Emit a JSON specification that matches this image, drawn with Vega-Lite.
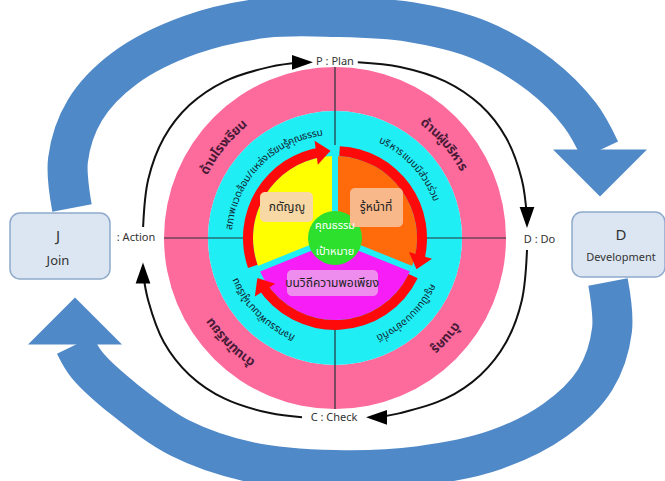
{
 "$schema": "https://vega.github.io/schema/vega-lite/v6.json",
 "width": 660, "height": 476,
 "autosize": {"type": "none"},
 "padding": {"left": 5, "top": 0, "right": 0, "bottom": 5},
 "background": "white",
 "config": {"view": {"stroke": null}},
 "datasets": {
  "blue": [
   {"arrow":"J-D","i":1,"x":-263,"y":30},{"arrow":"J-D","i":2,"x":-267,"y":78},{"arrow":"J-D","i":3,"x":-250,"y":128},{"arrow":"J-D","i":4,"x":-210,"y":170},{"arrow":"J-D","i":5,"x":-145,"y":203},{"arrow":"J-D","i":6,"x":-70,"y":220},{"arrow":"J-D","i":7,"x":0,"y":221},{"arrow":"J-D","i":8,"x":75,"y":216},{"arrow":"J-D","i":9,"x":145,"y":198},{"arrow":"J-D","i":10,"x":205,"y":163},{"arrow":"J-D","i":11,"x":245,"y":123},{"arrow":"J-D","i":12,"x":265,"y":88},
   {"arrow":"D-J","i":1,"x":273,"y":-44},{"arrow":"D-J","i":2,"x":277,"y":-92},{"arrow":"D-J","i":3,"x":260,"y":-142},{"arrow":"D-J","i":4,"x":220,"y":-182},{"arrow":"D-J","i":5,"x":160,"y":-212},{"arrow":"D-J","i":6,"x":85,"y":-228},{"arrow":"D-J","i":7,"x":0,"y":-232},{"arrow":"D-J","i":8,"x":-85,"y":-224},{"arrow":"D-J","i":9,"x":-155,"y":-200},{"arrow":"D-J","i":10,"x":-210,"y":-162},{"arrow":"D-J","i":11,"x":-248,"y":-127},{"arrow":"D-J","i":12,"x":-260,"y":-107}
  ],
  "blueHeads": [{"x":265,"y":65,"heading":90},{"x":-260,"y":-83,"heading":270}],
  "ring": [
   {"seg":"P-D","i":1,"x":22.8,"y":175.7},{"seg":"P-D","i":2,"x":65.1,"y":171.1},{"seg":"P-D","i":3,"x":110.3,"y":156.7},{"seg":"P-D","i":4,"x":145.5,"y":132.9},{"seg":"P-D","i":5,"x":171.1,"y":100.2},{"seg":"P-D","i":6,"x":186.8,"y":58.4},{"seg":"P-D","i":7,"x":192,"y":20},
   {"seg":"D-C","i":1,"x":192,"y":-12},{"seg":"D-C","i":2,"x":186.8,"y":-62.4},{"seg":"D-C","i":3,"x":171.1,"y":-104.2},{"seg":"D-C","i":4,"x":145.5,"y":-136.9},{"seg":"D-C","i":5,"x":110.3,"y":-160.7},{"seg":"D-C","i":6,"x":65.1,"y":-175.1},{"seg":"D-C","i":7,"x":43,"y":-179.2},
   {"seg":"C-A","i":1,"x":-33,"y":-179.2},{"seg":"C-A","i":2,"x":-65.1,"y":-175.1},{"seg":"C-A","i":3,"x":-110.3,"y":-160.7},{"seg":"C-A","i":4,"x":-145.5,"y":-136.9},{"seg":"C-A","i":5,"x":-171.1,"y":-104.2},{"seg":"C-A","i":6,"x":-186.8,"y":-62.4},{"seg":"C-A","i":7,"x":-192,"y":-35},
   {"seg":"A-P","i":1,"x":-191.9,"y":11},{"seg":"A-P","i":2,"x":-186.8,"y":58.4},{"seg":"A-P","i":3,"x":-171.1,"y":100.2},{"seg":"A-P","i":4,"x":-145.5,"y":132.9},{"seg":"A-P","i":5,"x":-110.3,"y":156.7},{"seg":"A-P","i":6,"x":-65.1,"y":171.1},{"seg":"A-P","i":7,"x":-33,"y":175.7}
  ],
  "ringHeads": [{"x":-32.5,"y":175.7,"heading":0},{"x":192,"y":20.5,"heading":90},{"x":41.5,"y":-179.3,"heading":180},{"x":-192,"y":-35,"heading":270}],
  "discs": [
   {"part":"ด้าน","t0":0,"t1":360,"r0":127,"r1":171},
   {"part":"แนวทาง","t0":0,"t1":360,"r0":0,"r1":127}
  ],
  "cross": [{"x":0,"y":171,"x2":0,"y2":-171},{"x":-171,"y":0,"x2":171,"y2":0}],
  "sectors": [
   {"part":"รู้หน้าที่","t0":0,"t1":112,"r0":0,"r1":82},
   {"part":"พอเพียง","t0":112,"t1":248,"r0":0,"r1":82},
   {"part":"กตัญญู","t0":248,"t1":360,"r0":0,"r1":82}
  ],
  "cycle": [
   {"part":"วงจร","t0":3,"t1":106,"r0":82,"r1":92},
   {"part":"วงจร","t0":116,"t1":238,"r0":82,"r1":92},
   {"part":"วงจร","t0":251,"t1":352,"r0":82,"r1":92}
  ],
  "dividers": [{"x":0,"y":0,"x2":0,"y2":93},{"x":0,"y":0,"x2":86.2,"y2":-34.8},{"x":0,"y":0,"x2":-86.2,"y2":-34.8}],
  "cycleHeads": [{"x":-11.65,"y":86.2,"heading":352.3},{"x":83.5,"y":-24.4,"heading":106.3},{"x":-73.8,"y":-46.1,"heading":238}],
  "core": [{"part":"คุณธรรม","t0":0,"t1":360,"r0":0,"r1":27}],
  "nodes": [{"part":"ขั้นตอน","x":-325,"x2":-225,"y":25,"y2":-41},{"part":"ขั้นตอน","x":237,"x2":330,"y":26,"y2":-39}],
  "tags": [
   {"part":"ป้ายกตัญญู","x":-75,"x2":-22,"y":46,"y2":16},
   {"part":"ป้ายรู้หน้าที่","x":15,"x2":68,"y":50,"y2":11},
   {"part":"ป้ายพอเพียง","x":-48,"x2":43,"y":-32,"y2":-58}
  ],
  "steps": [{"label":"P : Plan","x":0,"y":176},{"label":": Action","x":-199,"y":0},{"label":"D : Do","x":204.5,"y":-2},{"label":"C : Check","x":-1,"y":-180}],
  "letters": [{"label":"J","x":-277,"y":2},{"label":"D","x":286,"y":3}],
  "join": [{"label":"Join","x":-277,"y":-23}],
  "dev": [{"label":"Development","x":286,"y":-20}],
  "tagText": [{"label":"กตัญญู","x":-48,"y":31},{"label":"รู้หน้าที่","x":41,"y":31},{"label":"บนวิถีความพอเพียง","x":-3,"y":-45}],
  "coreText": [{"label":"คุณธรรม","x":0,"y":12},{"label":"เป้าหมาย","x":0,"y":-14}],
  "outerText": [
   {"label":"ด้าน","t":300.5,"r":146},{"label":"โรง","t":308.3,"r":146},{"label":"เรียน","t":316.8,"r":146},
   {"label":"ด้าน","t":41.0,"r":146},{"label":"ผู้","t":46.95,"r":146},{"label":"บริ","t":51.3,"r":146},{"label":"หาร","t":58.2,"r":146},
   {"label":"ด้าน","t":129.3,"r":150},{"label":"ครู","t":136.2,"r":150},
   {"label":"ด้าน","t":217.2,"r":150},{"label":"นัก","t":224.3,"r":150},{"label":"เรียน","t":232.0,"r":150}
  ],
  "middleText": [
   {"label":"สภาพ","t":280.6,"r":106},{"label":"แวด","t":291.6,"r":106},{"label":"ล้อม","t":301.0,"r":106},{"label":"/","t":306.9,"r":106},{"label":"แหล่ง","t":314.2,"r":106},{"label":"เรียน","t":326.0,"r":106},{"label":"รู้","t":332.7,"r":106},{"label":"คุณ","t":338.0,"r":106},{"label":"ธรรม","t":347.6,"r":106},
   {"label":"บริ","t":27.4,"r":108},{"label":"หาร","t":34.8,"r":108},{"label":"แบบ","t":44.0,"r":108},{"label":"มี","t":50.5,"r":108},{"label":"ส่วน","t":56.7,"r":108},{"label":"ร่วม","t":65.6,"r":108},
   {"label":"ครู","t":118.3,"r":109},{"label":"เป็น","t":125.4,"r":109},{"label":"แบบ","t":134.2,"r":109},{"label":"อย่าง","t":144.8,"r":109},{"label":"ที่","t":152.3,"r":109},{"label":"ดี","t":155.6,"r":109},
   {"label":"กิจ","t":205.2,"r":108},{"label":"กรรม","t":214.0,"r":108},{"label":"พัฒนา","t":227.0,"r":108},{"label":"ผู้","t":235.8,"r":108},{"label":"เรียน","t":242.8,"r":108}
  ]
 },
 "layer": [
  {"data":{"name":"blue"},"mark":{"type":"line","color":"#5089C8","strokeWidth":40,"strokeCap":"butt","interpolate":"catmull-rom"},
   "encoding":{"x":{"field":"x","type":"quantitative","scale":{"domain":[-330,330],"nice":false,"zero":false},"axis":null},
    "y":{"field":"y","type":"quantitative","scale":{"domain":[-238,238],"nice":false,"zero":false},"axis":null},
    "detail":{"field":"arrow"},"order":{"field":"i","type":"quantitative"}}},
  {"data":{"name":"blueHeads"},"mark":{"type":"point","shape":"M -0.5 -1 L 0.5 0 L -0.5 1 Z","size":8836,"filled":true,"color":"#5089C8","opacity":1},
   "encoding":{"x":{"field":"x","type":"quantitative","scale":{"domain":[-330,330],"nice":false,"zero":false},"axis":null},
    "y":{"field":"y","type":"quantitative","scale":{"domain":[-238,238],"nice":false,"zero":false},"axis":null},
    "angle":{"field":"heading","type":"quantitative","scale":{"domain":[0,360],"range":[0,360]}}}},
  {"data":{"name":"ring"},"mark":{"type":"line","color":"#111111","strokeWidth":2,"interpolate":"catmull-rom"},
   "encoding":{"x":{"field":"x","type":"quantitative","scale":{"domain":[-330,330],"nice":false,"zero":false},"axis":null},
    "y":{"field":"y","type":"quantitative","scale":{"domain":[-238,238],"nice":false,"zero":false},"axis":null},
    "detail":{"field":"seg"},"order":{"field":"i","type":"quantitative"}}},
  {"data":{"name":"ringHeads"},"mark":{"type":"point","shape":"M -1 -0.7 L 1 0 L -1 0.7 Z","size":441,"filled":true,"color":"#000000","opacity":1},
   "encoding":{"x":{"field":"x","type":"quantitative","scale":{"domain":[-330,330],"nice":false,"zero":false},"axis":null},
    "y":{"field":"y","type":"quantitative","scale":{"domain":[-238,238],"nice":false,"zero":false},"axis":null},
    "angle":{"field":"heading","type":"quantitative","scale":{"domain":[0,360],"range":[0,360]}}}},
  {"data":{"name":"discs"},"mark":{"type":"arc"},
   "encoding":{"theta":{"field":"t0","type":"quantitative","scale":{"domain":[0,360],"range":[0,6.283185307179586]},"stack":null},
    "theta2":{"field":"t1"},
    "radius":{"field":"r1","type":"quantitative","scale":{"type":"linear","domain":[0,200],"range":[0,200],"zero":true,"nice":false}},
    "radius2":{"field":"r0"},
    "fill":{"field":"part","type":"nominal","legend":null,"scale":{"domain":["ด้าน","แนวทาง","กตัญญู","รู้หน้าที่","พอเพียง","วงจร","คุณธรรม","ป้ายกตัญญู","ป้ายรู้หน้าที่","ป้ายพอเพียง","ขั้นตอน"],"range":["#FD6A9C","#1FEEF4","#FFFF00","#FF6A0A","#F71DF7","#FF0A0A","#2EE02E","#F8D8A5","#F8B88A","#EE8DEE","#DCE6F2"]}}}},
  {"data":{"name":"cross"},"mark":{"type":"rule","color":"#263238","strokeWidth":1.2},
   "encoding":{"x":{"field":"x","type":"quantitative","scale":{"domain":[-330,330],"nice":false,"zero":false},"axis":null},
    "y":{"field":"y","type":"quantitative","scale":{"domain":[-238,238],"nice":false,"zero":false},"axis":null},
    "x2":{"field":"x2"},"y2":{"field":"y2"}}},
  {"data":{"name":"sectors"},"mark":{"type":"arc"},
   "encoding":{"theta":{"field":"t0","type":"quantitative","scale":{"domain":[0,360],"range":[0,6.283185307179586]},"stack":null},
    "theta2":{"field":"t1"},
    "radius":{"field":"r1","type":"quantitative","scale":{"type":"linear","domain":[0,200],"range":[0,200],"zero":true,"nice":false}},
    "radius2":{"field":"r0"},
    "fill":{"field":"part","type":"nominal","legend":null}}},
  {"data":{"name":"cycle"},"mark":{"type":"arc"},
   "encoding":{"theta":{"field":"t0","type":"quantitative","scale":{"domain":[0,360],"range":[0,6.283185307179586]},"stack":null},
    "theta2":{"field":"t1"},
    "radius":{"field":"r1","type":"quantitative","scale":{"type":"linear","domain":[0,200],"range":[0,200],"zero":true,"nice":false}},
    "radius2":{"field":"r0"},
    "fill":{"field":"part","type":"nominal","legend":null}}},
  {"data":{"name":"dividers"},"mark":{"type":"rule","color":"#1FEEF4","strokeWidth":6,"strokeCap":"butt"},
   "encoding":{"x":{"field":"x","type":"quantitative","scale":{"domain":[-330,330],"nice":false,"zero":false},"axis":null},
    "y":{"field":"y","type":"quantitative","scale":{"domain":[-238,238],"nice":false,"zero":false},"axis":null},
    "x2":{"field":"x2"},"y2":{"field":"y2"}}},
  {"data":{"name":"cycleHeads"},"mark":{"type":"point","shape":"M -0.6 -1 L 0.6 0 L -0.6 1 Z","size":576,"filled":true,"color":"#FF0A0A","opacity":1},
   "encoding":{"x":{"field":"x","type":"quantitative","scale":{"domain":[-330,330],"nice":false,"zero":false},"axis":null},
    "y":{"field":"y","type":"quantitative","scale":{"domain":[-238,238],"nice":false,"zero":false},"axis":null},
    "angle":{"field":"heading","type":"quantitative","scale":{"domain":[0,360],"range":[0,360]}}}},
  {"data":{"name":"core"},"mark":{"type":"arc"},
   "encoding":{"theta":{"field":"t0","type":"quantitative","scale":{"domain":[0,360],"range":[0,6.283185307179586]},"stack":null},
    "theta2":{"field":"t1"},
    "radius":{"field":"r1","type":"quantitative","scale":{"type":"linear","domain":[0,200],"range":[0,200],"zero":true,"nice":false}},
    "radius2":{"field":"r0"},
    "fill":{"field":"part","type":"nominal","legend":null}}},
  {"data":{"name":"nodes"},"mark":{"type":"rect","cornerRadius":10,"stroke":"#8FAACC","strokeWidth":1.5},
   "encoding":{"x":{"field":"x","type":"quantitative","scale":{"domain":[-330,330],"nice":false,"zero":false},"axis":null},
    "y":{"field":"y","type":"quantitative","scale":{"domain":[-238,238],"nice":false,"zero":false},"axis":null},
    "x2":{"field":"x2"},"y2":{"field":"y2"},
    "fill":{"field":"part","type":"nominal","legend":null}}},
  {"data":{"name":"tags"},"mark":{"type":"rect","cornerRadius":5},
   "encoding":{"x":{"field":"x","type":"quantitative","scale":{"domain":[-330,330],"nice":false,"zero":false},"axis":null},
    "y":{"field":"y","type":"quantitative","scale":{"domain":[-238,238],"nice":false,"zero":false},"axis":null},
    "x2":{"field":"x2"},"y2":{"field":"y2"},
    "fill":{"field":"part","type":"nominal","legend":null}}},
  {"data":{"name":"steps"},"mark":{"type":"text","font":"Noto Sans","fontSize":11,"color":"#333333","align":"center","baseline":"middle"},
   "encoding":{"x":{"field":"x","type":"quantitative","scale":{"domain":[-330,330],"nice":false,"zero":false},"axis":null},
    "y":{"field":"y","type":"quantitative","scale":{"domain":[-238,238],"nice":false,"zero":false},"axis":null},
    "text":{"field":"label"}}},
  {"data":{"name":"letters"},"mark":{"type":"text","font":"Noto Sans","fontSize":15,"color":"#333333","align":"center","baseline":"middle"},
   "encoding":{"x":{"field":"x","type":"quantitative","scale":{"domain":[-330,330],"nice":false,"zero":false},"axis":null},
    "y":{"field":"y","type":"quantitative","scale":{"domain":[-238,238],"nice":false,"zero":false},"axis":null},
    "text":{"field":"label"}}},
  {"data":{"name":"join"},"mark":{"type":"text","font":"Noto Sans","fontSize":13,"color":"#333333","align":"center","baseline":"middle"},
   "encoding":{"x":{"field":"x","type":"quantitative","scale":{"domain":[-330,330],"nice":false,"zero":false},"axis":null},
    "y":{"field":"y","type":"quantitative","scale":{"domain":[-238,238],"nice":false,"zero":false},"axis":null},
    "text":{"field":"label"}}},
  {"data":{"name":"dev"},"mark":{"type":"text","font":"Noto Sans","fontSize":11,"color":"#333333","align":"center","baseline":"middle"},
   "encoding":{"x":{"field":"x","type":"quantitative","scale":{"domain":[-330,330],"nice":false,"zero":false},"axis":null},
    "y":{"field":"y","type":"quantitative","scale":{"domain":[-238,238],"nice":false,"zero":false},"axis":null},
    "text":{"field":"label"}}},
  {"data":{"name":"tagText"},"mark":{"type":"text","font":"Noto Sans Thai, Noto Sans, sans-serif","fontSize":12,"color":"#222222","align":"center","baseline":"middle"},
   "encoding":{"x":{"field":"x","type":"quantitative","scale":{"domain":[-330,330],"nice":false,"zero":false},"axis":null},
    "y":{"field":"y","type":"quantitative","scale":{"domain":[-238,238],"nice":false,"zero":false},"axis":null},
    "text":{"field":"label"}}},
  {"data":{"name":"coreText"},"mark":{"type":"text","font":"Noto Sans Thai, Noto Sans, sans-serif","fontSize":11,"color":"#FFFFFF","align":"center","baseline":"middle"},
   "encoding":{"x":{"field":"x","type":"quantitative","scale":{"domain":[-330,330],"nice":false,"zero":false},"axis":null},
    "y":{"field":"y","type":"quantitative","scale":{"domain":[-238,238],"nice":false,"zero":false},"axis":null},
    "text":{"field":"label"}}},
  {"data":{"name":"outerText"},"mark":{"type":"text","font":"Noto Sans Thai, Noto Sans, sans-serif","fontSize":13,"fontWeight":"bold","color":"#4A1A38","align":"center","baseline":"middle"},
   "encoding":{"theta":{"field":"t","type":"quantitative","scale":{"domain":[0,360],"range":[0,6.283185307179586]},"stack":null},
    "radius":{"field":"r","type":"quantitative","scale":{"type":"linear","domain":[0,200],"range":[0,200],"zero":true,"nice":false}},
    "angle":{"field":"t","type":"quantitative","scale":{"domain":[0,360],"range":[0,360]}},
    "text":{"field":"label"}}},
  {"data":{"name":"middleText"},"mark":{"type":"text","font":"Noto Sans Thai, Noto Sans, sans-serif","fontSize":10,"fontWeight":"normal","color":"#10202E","align":"center","baseline":"middle"},
   "encoding":{"theta":{"field":"t","type":"quantitative","scale":{"domain":[0,360],"range":[0,6.283185307179586]},"stack":null},
    "radius":{"field":"r","type":"quantitative","scale":{"type":"linear","domain":[0,200],"range":[0,200],"zero":true,"nice":false}},
    "angle":{"field":"t","type":"quantitative","scale":{"domain":[0,360],"range":[0,360]}},
    "text":{"field":"label"}}}
 ]
}
